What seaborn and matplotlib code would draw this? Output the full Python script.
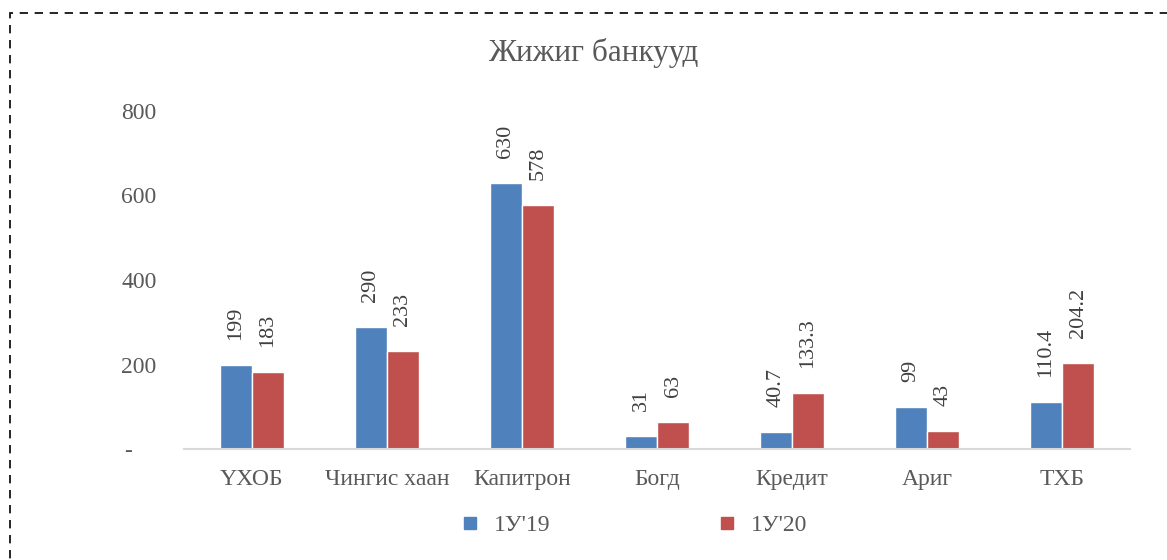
import pandas as pd
import seaborn as sns
import matplotlib.pyplot as plt
from matplotlib.patches import Rectangle
from matplotlib.lines import Line2D

banks = ['ҮХОБ', 'Чингис хаан', 'Капитрон', 'Богд', 'Кредит', 'Ариг', 'ТХБ']
y19 = [199, 290, 630, 31, 40.7, 99, 110.4]
y20 = [183, 233, 578, 63, 133.3, 43, 204.2]
labels19 = ['199', '290', '630', '31', '40.7', '99', '110.4']
labels20 = ['183', '233', '578', '63', '133.3', '43', '204.2']
series = ["1У'19", "1У'20"]
colors = ['#4F81BD', '#C0504D']

df = pd.DataFrame({'bank': banks * 2,
                   'value': y19 + y20,
                   'series': [series[0]] * 7 + [series[1]] * 7})

sns.set_style('white')
plt.rcParams['font.family'] = ['Liberation Serif', 'DejaVu Serif']

fig = plt.figure(figsize=(11.67, 5.6), dpi=100)
ax = fig.add_axes([0.158, 0.198, 0.810, 0.604])

sns.barplot(data=df, x='bank', y='value', hue='series', palette=colors,
            width=0.475, ax=ax, legend=False, saturation=1)

for cont, labs in zip(ax.containers, [labels19, labels20]):
    ax.bar_label(cont, labels=labs, rotation=90, padding=18, fontsize=16, color='#404040')

ax.set_ylim(0, 800)
ax.set_yticks([0, 200, 400, 600, 800])
ax.set_yticklabels(['-    ', '200', '400', '600', '800'])
ax.set_xlim(-0.5, 6.5)
ax.set_xlabel('')
ax.set_ylabel('')
for s in ['top', 'right', 'left']:
    ax.spines[s].set_visible(False)
ax.spines['bottom'].set_color('#D9D9D9')
ax.spines['bottom'].set_linewidth(1.5)
ax.tick_params(axis='both', length=0, labelsize=17, colors='#595959')
ax.tick_params(axis='x', pad=14)
ax.tick_params(axis='y', pad=20)

fig.text(0.508, 0.905, 'Жижиг банкууд', ha='center', va='center', fontsize=22.5, color='#595959')

handles = [Line2D([], [], marker='s', linestyle='', markersize=9, color=c) for c in colors]
fig.legend(handles, series, loc='center', bbox_to_anchor=(0.537, 0.062), ncol=2,
           frameon=False, fontsize=17, handletextpad=0.0, columnspacing=6.5,
           labelcolor='#595959')

fig.patches.append(Rectangle((10 / 1167, -0.1), 1.2, (560 - 13) / 560 + 0.1,
                             transform=fig.transFigure, fill=False,
                             edgecolor='black', linestyle=(0, (5, 4)), linewidth=1.2))

fig.savefig('out.png', dpi=100)
